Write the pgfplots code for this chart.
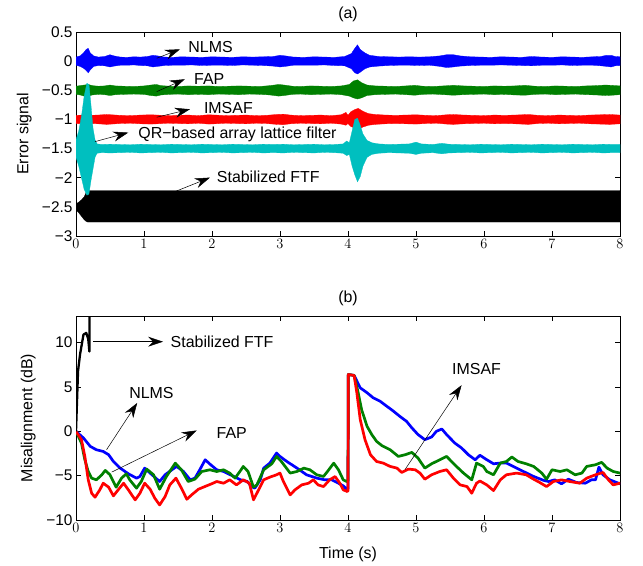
\documentclass[border=0pt]{standalone}
\usepackage{fontspec}
\setmainfont{Liberation Sans}
\usepackage{pgfplots}
\usepackage{pgfplotstable}
\pgfplotsset{compat=1.18}
\usepgfplotslibrary{fillbetween}
\usetikzlibrary{arrows.meta}

\definecolor{mb}{rgb}{0,0,1}
\definecolor{mg}{rgb}{0,0.5,0}
\definecolor{mr}{rgb}{1,0,0}
\definecolor{mc}{rgb}{0,0.75,0.75}

% envelopes of the noisy error signals: x, upper, lower
\pgfplotstableread{
x hi lo
0 0.07 -0.07
0.06 0.09 -0.09
0.11 0.14 -0.12
0.15 0.2 -0.16
0.18 0.22 -0.2
0.21 0.14 -0.15
0.26 0.09 -0.09
0.33 0.07 -0.075
0.42 0.08 -0.08
0.5 0.11 -0.1
0.56 0.09 -0.085
0.65 0.07 -0.07
0.75 0.065 -0.07
0.85 0.075 -0.065
0.95 0.07 -0.075
1.05 0.08 -0.08
1.13 0.1 -0.1
1.2 0.09 -0.09
1.3 0.07 -0.075
1.42 0.065 -0.07
1.55 0.075 -0.07
1.7 0.07 -0.065
1.85 0.065 -0.075
2.0 0.075 -0.07
2.15 0.07 -0.07
2.3 0.065 -0.075
2.45 0.075 -0.065
2.6 0.07 -0.07
2.75 0.075 -0.075
2.9 0.08 -0.085
3.0 0.1 -0.1
3.08 0.09 -0.09
3.2 0.07 -0.07
3.35 0.065 -0.07
3.5 0.075 -0.07
3.65 0.07 -0.065
3.8 0.065 -0.075
3.95 0.08 -0.08
4.05 0.13 -0.13
4.1 0.22 -0.2
4.14 0.28 -0.22
4.18 0.2 -0.19
4.25 0.14 -0.13
4.32 0.1 -0.1
4.45 0.08 -0.085
4.6 0.075 -0.075
4.75 0.07 -0.07
4.9 0.075 -0.07
5.05 0.07 -0.075
5.2 0.075 -0.07
5.35 0.09 -0.09
5.45 0.11 -0.11
5.55 0.11 -0.1
5.65 0.09 -0.085
5.8 0.075 -0.075
5.95 0.07 -0.07
6.1 0.065 -0.07
6.25 0.075 -0.065
6.4 0.07 -0.07
6.55 0.065 -0.075
6.7 0.08 -0.08
6.85 0.07 -0.07
7.0 0.065 -0.07
7.15 0.075 -0.065
7.3 0.07 -0.075
7.45 0.065 -0.07
7.6 0.075 -0.07
7.72 0.08 -0.08
7.8 0.1 -0.09
7.87 0.1 -0.1
7.93 0.08 -0.08
8.0 0.075 -0.075
}\tblue

\pgfplotstableread{
x hi lo
0 -0.43 -0.57
0.06 -0.42 -0.58
0.12 -0.41 -0.6
0.18 -0.4 -0.6
0.24 -0.42 -0.58
0.33 -0.43 -0.57
0.42 -0.425 -0.575
0.5 -0.41 -0.59
0.58 -0.425 -0.575
0.7 -0.43 -0.57
0.85 -0.435 -0.565
1.0 -0.425 -0.57
1.1 -0.41 -0.59
1.18 -0.4 -0.6
1.25 -0.42 -0.58
1.38 -0.43 -0.57
1.5 -0.435 -0.565
1.65 -0.425 -0.575
1.8 -0.43 -0.57
1.95 -0.425 -0.575
2.1 -0.435 -0.565
2.25 -0.43 -0.57
2.4 -0.425 -0.575
2.55 -0.43 -0.565
2.7 -0.435 -0.57
2.85 -0.42 -0.58
2.98 -0.4 -0.6
3.06 -0.41 -0.59
3.18 -0.43 -0.57
3.3 -0.435 -0.565
3.45 -0.425 -0.575
3.6 -0.43 -0.57
3.75 -0.435 -0.565
3.9 -0.425 -0.575
4.02 -0.4 -0.6
4.08 -0.34 -0.63
4.14 -0.32 -0.65
4.2 -0.37 -0.63
4.28 -0.41 -0.59
4.4 -0.425 -0.575
4.55 -0.43 -0.57
4.7 -0.435 -0.565
4.85 -0.425 -0.575
4.98 -0.415 -0.585
5.1 -0.43 -0.57
5.25 -0.435 -0.565
5.4 -0.425 -0.575
5.55 -0.415 -0.585
5.7 -0.425 -0.575
5.85 -0.43 -0.57
6.0 -0.435 -0.565
6.15 -0.425 -0.575
6.3 -0.43 -0.57
6.45 -0.425 -0.58
6.6 -0.415 -0.585
6.75 -0.43 -0.57
6.9 -0.435 -0.565
7.05 -0.425 -0.575
7.2 -0.43 -0.57
7.35 -0.435 -0.565
7.5 -0.425 -0.575
7.65 -0.42 -0.58
7.78 -0.41 -0.59
7.88 -0.415 -0.585
8.0 -0.425 -0.575
}\tgreen

\pgfplotstableread{
x hi lo
0 -0.93 -1.07
0.1 -0.925 -1.075
0.2 -0.93 -1.07
0.32 -0.925 -1.075
0.45 -0.915 -1.085
0.52 -0.92 -1.08
0.65 -0.93 -1.07
0.8 -0.935 -1.065
0.95 -0.925 -1.075
1.1 -0.92 -1.08
1.2 -0.925 -1.075
1.35 -0.935 -1.065
1.5 -0.93 -1.07
1.65 -0.925 -1.075
1.8 -0.935 -1.065
1.95 -0.92 -1.08
2.05 -0.925 -1.075
2.2 -0.935 -1.065
2.35 -0.93 -1.07
2.5 -0.925 -1.075
2.65 -0.935 -1.065
2.8 -0.93 -1.07
2.95 -0.915 -1.085
3.05 -0.91 -1.09
3.15 -0.925 -1.075
3.3 -0.935 -1.065
3.45 -0.93 -1.07
3.6 -0.925 -1.075
3.75 -0.935 -1.065
3.9 -0.92 -1.08
3.97 -0.88 -1.1
4.0 -0.93 -1.07
4.04 -0.87 -1.12
4.1 -0.83 -1.15
4.15 -0.81 -1.17
4.22 -0.86 -1.13
4.3 -0.9 -1.1
4.4 -0.915 -1.085
4.55 -0.925 -1.075
4.7 -0.93 -1.07
4.85 -0.925 -1.075
5.0 -0.92 -1.08
5.15 -0.93 -1.07
5.3 -0.935 -1.065
5.45 -0.92 -1.08
5.55 -0.915 -1.085
5.7 -0.925 -1.075
5.85 -0.93 -1.07
6.0 -0.935 -1.065
6.15 -0.925 -1.075
6.3 -0.93 -1.07
6.45 -0.925 -1.075
6.65 -0.915 -1.085
6.8 -0.93 -1.07
6.95 -0.935 -1.065
7.1 -0.925 -1.075
7.25 -0.93 -1.07
7.4 -0.935 -1.065
7.55 -0.925 -1.075
7.7 -0.92 -1.08
7.85 -0.915 -1.085
8.0 -0.925 -1.075
}\tred

\pgfplotstableread{
x hi lo
0 -1.35 -1.65
0.04 -1.2 -1.8
0.08 -0.95 -2.0
0.12 -0.6 -2.2
0.16 -0.38 -2.3
0.19 -0.4 -2.28
0.22 -0.75 -2.05
0.25 -1.15 -1.85
0.28 -1.35 -1.65
0.31 -1.42 -1.58
0.38 -1.43 -1.57
0.5 -1.425 -1.575
0.65 -1.43 -1.57
0.8 -1.435 -1.565
0.95 -1.425 -1.575
1.1 -1.43 -1.57
1.25 -1.435 -1.565
1.4 -1.425 -1.575
1.55 -1.43 -1.57
1.7 -1.435 -1.565
1.85 -1.425 -1.575
2.0 -1.43 -1.57
2.15 -1.435 -1.565
2.3 -1.425 -1.575
2.45 -1.43 -1.57
2.6 -1.435 -1.565
2.75 -1.425 -1.575
2.9 -1.43 -1.57
3.05 -1.425 -1.575
3.2 -1.435 -1.565
3.35 -1.43 -1.57
3.5 -1.425 -1.575
3.65 -1.435 -1.565
3.8 -1.43 -1.57
3.93 -1.42 -1.58
3.98 -1.37 -1.62
4.02 -1.4 -1.6
4.06 -1.2 -1.8
4.1 -1.0 -1.95
4.14 -0.98 -2.07
4.18 -1.1 -1.98
4.22 -1.25 -1.8
4.28 -1.36 -1.65
4.35 -1.4 -1.6
4.45 -1.42 -1.58
4.6 -1.43 -1.57
4.75 -1.425 -1.575
4.9 -1.42 -1.58
5.0 -1.39 -1.6
5.08 -1.42 -1.58
5.25 -1.43 -1.57
5.38 -1.41 -1.59
5.48 -1.425 -1.575
5.65 -1.43 -1.57
5.8 -1.435 -1.565
5.95 -1.425 -1.575
6.1 -1.43 -1.57
6.25 -1.435 -1.565
6.4 -1.425 -1.575
6.55 -1.43 -1.57
6.7 -1.435 -1.565
6.85 -1.425 -1.575
7.0 -1.43 -1.57
7.15 -1.435 -1.565
7.3 -1.425 -1.575
7.45 -1.43 -1.57
7.6 -1.435 -1.565
7.75 -1.425 -1.575
7.9 -1.43 -1.57
8.0 -1.43 -1.57
}\tcyan

\pgfplotstableread{
x hi lo
0 -2.45 -2.55
0.04 -2.42 -2.6
0.08 -2.38 -2.66
0.12 -2.33 -2.72
0.15 -2.25 -2.75
0.17 -2.22 -2.76
8 -2.22 -2.76
}\tblack

\pgfplotsset{
  myax/.style={
    scale only axis, width=544bp, height=204bp,
    xmin=0, xmax=8, xtick={0,...,8},
    tick align=inside, major tick length=5bp,
    axis line style={line width=0.6bp},
    every tick/.style={black, line width=0.6bp},
    ticklabel style={font=\fontsize{15.5}{18}\selectfont},
    label style={font=\fontsize{16}{19}\selectfont},
    title style={font=\fontsize{16}{19}\selectfont, yshift=1bp},
  },
}
\tikzset{
  arr/.style={-{Stealth[length=15bp,width=10bp,inset=5bp]}, line width=0.5bp},
  lab/.style={anchor=west, font=\fontsize{16}{19}\selectfont, inner sep=0pt},
  labc/.style={anchor=center, font=\fontsize{16}{19}\selectfont, inner sep=0pt},
  cur/.style={line width=2.7bp, line join=round, line cap=round},
}

\begin{document}
\begin{tikzpicture}

\begin{axis}[myax,
  at={(76bp,328bp)}, anchor=south west,
  ymin=-3, ymax=0.5,
  ytick={-3,-2.5,-2,-1.5,-1,-0.5,0,0.5},
  yticklabels={−3,−2.5,−2,−1.5,−1,−0.5,0,0.5},
  title={(a)},
  ylabel={Error signal},
  ylabel style={at={(axis description cs:-0.095,0.5)}, anchor=center},
]
\addplot[draw=none, name path=bu] table[x=x,y=hi]{\tblue};
\addplot[draw=none, name path=bl] table[x=x,y=lo]{\tblue};
\addplot[fill=mb, draw=mb, line width=0.3bp] fill between[of=bu and bl];
\addplot[draw=none, name path=gu] table[x=x,y=hi]{\tgreen};
\addplot[draw=none, name path=gl] table[x=x,y=lo]{\tgreen};
\addplot[fill=mg, draw=mg, line width=0.3bp] fill between[of=gu and gl];
\addplot[draw=none, name path=ru] table[x=x,y=hi]{\tred};
\addplot[draw=none, name path=rl] table[x=x,y=lo]{\tred};
\addplot[fill=mr, draw=mr, line width=0.3bp] fill between[of=ru and rl];
\addplot[draw=none, name path=ku] table[x=x,y=hi]{\tblack};
\addplot[draw=none, name path=kl] table[x=x,y=lo]{\tblack};
\addplot[fill=black, draw=black, line width=0.3bp] fill between[of=ku and kl];
\addplot[draw=none, name path=cu] table[x=x,y=hi]{\tcyan};
\addplot[draw=none, name path=cl] table[x=x,y=lo]{\tcyan};
\addplot[fill=mc, draw=mc, line width=0.3bp] fill between[of=cu and cl];

\draw[arr] (axis cs:1.187,0.05) -- (axis cs:1.53,0.204);
\node[lab] at (axis cs:1.65,0.235) {NLMS};
\draw[arr] (axis cs:1.187,-0.523) -- (axis cs:1.60,-0.31);
\node[lab] at (axis cs:1.735,-0.305) {FAP};
\draw[arr] (axis cs:1.187,-0.962) -- (axis cs:1.676,-0.825);
\node[lab] at (axis cs:1.88,-0.797) {IMSAF};
\draw[arr] (axis cs:0.279,-1.381) -- (axis cs:0.769,-1.226);
\node[lab] at (axis cs:0.916,-1.265) {QR−based array lattice filter};
\draw[arr] (axis cs:1.456,-2.238) -- (axis cs:1.97,-1.998);
\node[lab] at (axis cs:2.07,-1.99) {Stabilized FTF};
\end{axis}

\begin{axis}[myax,
  at={(76bp,44bp)}, anchor=south west,
  ymin=-10, ymax=13,
  ytick={-10,-5,0,5,10},
  yticklabels={−10,−5,0,5,10},
  title={(b)},
  xlabel={Time (s)},
  ylabel={Misalignment (dB)},
  ylabel style={at={(axis description cs:-0.088,0.5)}, anchor=center},
  xlabel style={at={(axis description cs:0.5,-0.17)}, anchor=center},
]
% NLMS
\addplot[mb, cur] coordinates {
(0,0) (0.11,-0.76) (0.21,-1.7) (0.30,-2.08) (0.40,-2.27) (0.48,-2.64) (0.55,-3.4)
(0.65,-4.15) (0.77,-4.79) (0.89,-5.28) (0.94,-5.09) (1.01,-4.15) (1.09,-4.71)
(1.19,-5.39) (1.23,-5.66) (1.31,-4.9) (1.41,-4.34) (1.48,-3.96) (1.58,-4.53)
(1.68,-5.47) (1.75,-5.28) (1.82,-4.34) (1.90,-3.21) (1.97,-3.7) (2.07,-4.34)
(2.17,-4.53) (2.32,-5.09) (2.42,-5.47) (2.52,-5.66) (2.58,-6.23) (2.63,-6.41)
(2.71,-5.47) (2.76,-4.15) (2.85,-3.59) (2.95,-2.45) (3.0,-2.83) (3.10,-3.4)
(3.25,-4.15) (3.39,-4.9) (3.54,-5.28) (3.66,-5.47) (3.76,-5.47) (3.86,-5.85)
(3.93,-6.15) (3.98,-6.53) (4.0,-6.5)
(4.005,6.4) (4.09,6.3) (4.18,4.9) (4.28,4.35) (4.37,3.78) (4.47,3.4) (4.57,2.83)
(4.67,2.26) (4.76,1.7) (4.86,1.13) (4.94,0.38) (5.03,-0.37) (5.13,-0.94) (5.23,-0.64)
(5.30,0.0) (5.38,0.26) (5.45,-0.37) (5.57,-1.32) (5.67,-1.88) (5.77,-2.64) (5.87,-3.21)
(5.94,-2.7) (6.04,-3.2) (6.14,-3.66) (6.24,-3.58) (6.33,-3.58) (6.43,-3.96)
(6.58,-4.53) (6.73,-5.09) (6.88,-5.54) (6.95,-5.66) (7.04,-5.47) (7.14,-5.92)
(7.24,-5.4) (7.36,-5.77) (7.49,-5.85) (7.58,-5.47) (7.64,-5.47) (7.69,-4.04)
(7.75,-4.9) (7.85,-5.47) (8.0,-5.92)
};
% FAP
\addplot[mg, cur] coordinates {
(0,0) (0.08,-1.32) (0.13,-3.21) (0.18,-4.53) (0.23,-5.28) (0.30,-5.47) (0.38,-4.9)
(0.43,-4.41) (0.50,-4.9) (0.59,-6.3) (0.67,-5.28) (0.74,-4.79) (0.79,-5.47)
(0.89,-6.41) (0.96,-5.66) (1.04,-4.26) (1.14,-4.9) (1.23,-6.53) (1.33,-5.09)
(1.46,-3.59) (1.55,-4.34) (1.65,-5.66) (1.75,-5.39) (1.85,-4.53) (1.97,-4.34)
(2.07,-4.53) (2.17,-4.34) (2.26,-4.71) (2.34,-5.28) (2.41,-4.53) (2.46,-3.96)
(2.53,-4.53) (2.61,-6.3) (2.66,-6.04) (2.76,-4.34) (2.88,-3.66) (2.95,-2.83)
(3.02,-3.4) (3.15,-4.71) (3.25,-4.53) (3.35,-4.15) (3.44,-4.34) (3.54,-4.9)
(3.64,-5.09) (3.71,-4.41) (3.79,-3.59) (3.86,-4.34) (3.93,-5.47) (3.98,-5.66)
(4.0,-5.6)
(4.005,6.4) (4.09,6.3) (4.15,4.35) (4.20,2.45) (4.28,0.57) (4.35,-0.37) (4.42,-1.13)
(4.50,-1.62) (4.62,-2.08) (4.74,-2.83) (4.84,-2.64) (4.94,-2.38) (5.03,-3.02)
(5.13,-4.15) (5.23,-3.66) (5.35,-3.21) (5.45,-2.83) (5.57,-3.78) (5.70,-4.72)
(5.82,-5.47) (5.89,-3.59) (5.99,-3.96) (6.04,-4.53) (6.14,-4.9) (6.24,-3.58)
(6.33,-3.4) (6.41,-2.9) (6.50,-3.4) (6.62,-3.66) (6.73,-3.96) (6.85,-4.71)
(6.92,-5.4) (7.0,-4.34) (7.12,-4.53) (7.22,-4.34) (7.34,-4.9) (7.44,-4.71)
(7.51,-3.96) (7.64,-3.77) (7.73,-3.5) (7.81,-4.15) (7.90,-4.53) (8.0,-4.71)
};
% IMSAF
\addplot[mr, cur] coordinates {
(0,0) (0.08,-0.94) (0.13,-2.83) (0.18,-5.47) (0.23,-6.98) (0.28,-7.43) (0.35,-6.6)
(0.40,-5.85) (0.48,-6.3) (0.55,-7.28) (0.62,-6.6) (0.70,-5.85) (0.77,-6.6)
(0.87,-7.73) (0.94,-6.98) (1.01,-5.85) (1.09,-6.53) (1.16,-7.55) (1.23,-8.3)
(1.31,-7.36) (1.38,-6.04) (1.47,-5.28) (1.55,-6.41) (1.63,-7.66) (1.70,-7.17)
(1.80,-6.53) (1.92,-6.15) (2.0,-5.9) (2.07,-5.66) (2.17,-5.85) (2.26,-5.47)
(2.36,-6.04) (2.46,-5.47) (2.55,-5.85) (2.61,-7.73) (2.66,-6.98) (2.76,-5.47)
(2.85,-5.17) (2.95,-4.9) (3.0,-4.71) (3.05,-5.66) (3.15,-7.17) (3.22,-6.6)
(3.32,-6.04) (3.42,-5.85) (3.49,-5.47) (3.56,-6.04) (3.64,-6.23) (3.73,-5.47)
(3.81,-5.1) (3.88,-5.85) (3.93,-6.6) (3.99,-6.79) (4.0,-6.7)
(4.005,6.4) (4.09,6.3) (4.13,4.35) (4.18,1.32) (4.25,-0.94) (4.33,-2.64) (4.42,-3.4)
(4.52,-3.59) (4.62,-3.96) (4.72,-4.15) (4.79,-4.64) (4.89,-4.26) (4.99,-4.34)
(5.06,-4.72) (5.13,-5.4) (5.23,-4.9) (5.35,-4.53) (5.45,-4.34) (5.55,-5.28)
(5.65,-6.04) (5.75,-6.23) (5.82,-6.98) (5.89,-5.85) (5.94,-5.6) (6.04,-6.04)
(6.14,-6.68) (6.24,-5.47) (6.33,-4.9) (6.48,-4.71) (6.62,-4.9) (6.73,-5.4)
(6.82,-5.77) (6.92,-6.23) (7.02,-5.66) (7.14,-5.47) (7.26,-5.66) (7.41,-5.85)
(7.51,-5.28) (7.64,-4.9) (7.75,-4.64) (7.83,-5.47) (7.90,-6.04) (8.0,-5.85)
};
% Stabilized FTF
\addplot[black, line width=2.3bp, line join=round] coordinates {
(0,0) (0.03,6.8) (0.06,8.7) (0.11,10.9) (0.15,11.1) (0.18,10.4) (0.197,9.0) (0.2,14)
};

\draw[arr] (axis cs:0.25,10.1) -- (axis cs:1.28,10.1);
\node[lab] at (axis cs:1.39,10.1) {Stabilized FTF};
\draw[arr] (axis cs:0.45,-2.07) -- (axis cs:0.90,3.2);
\node[labc] at (axis cs:1.11,4.35) {NLMS};
\draw[arr] (axis cs:0.525,-4.6) -- (axis cs:1.775,0.1);
\node[labc] at (axis cs:2.29,-0.2) {FAP};
\draw[arr] (axis cs:4.84,-4.3) -- (axis cs:5.67,5.2);
\node[labc] at (axis cs:5.89,7.0) {IMSAF};
\end{axis}
\path (0,0) rectangle (643bp,564bp);
\end{tikzpicture}
\end{document}
